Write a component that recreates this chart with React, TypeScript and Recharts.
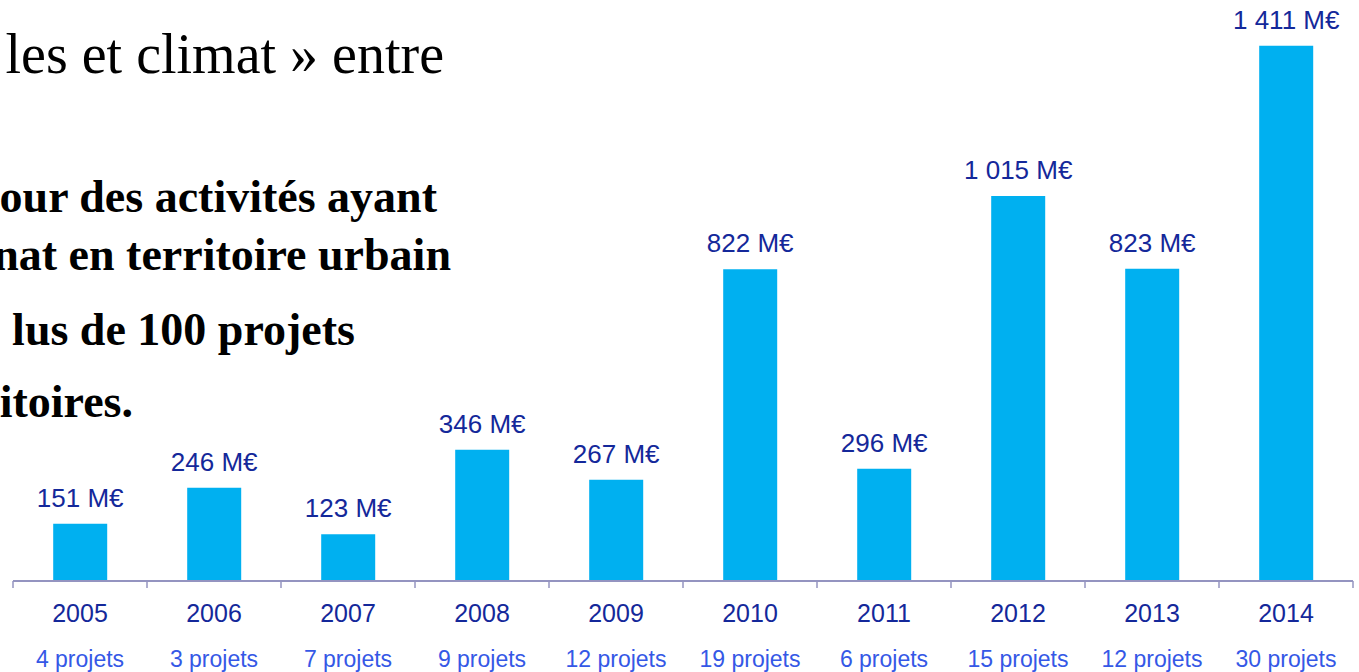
import { BarChart, Bar, XAxis, YAxis, LabelList } from "recharts";

// data
const years = ["2005", "2006", "2007", "2008", "2009", "2010", "2011", "2012", "2013", "2014"];
const amounts = [151, 246, 123, 346, 267, 822, 296, 1015, 823, 1411];
const projects = [4, 3, 7, 9, 12, 19, 6, 15, 12, 30];

// cut-off slide text sitting behind the chart
const slideLines = [
    { text: "les et climat » entre", x: 444, y: 73, size: 56, weight: 400 },
    { text: "our des activités ayant", x: 437, y: 212, size: 46, weight: 700 },
    { text: "nat en territoire urbain", x: 451, y: 270, size: 46, weight: 700 },
    { text: "lus de 100 projets", x: 355, y: 345, size: 46, weight: 700 },
    { text: "itoires.", x: 133, y: 417, size: 46, weight: 700 },
];

const W = 1359;
const H = 672;
const BAND = 134;
const NAVY = "#14289a";
const LIGHT = "#3558e6";
const AXIS = "#9494c0";
const SANS = "Liberation Sans, Arial, sans-serif";

const fmt = (v: number) => String(v).replace(/\B(?=(\d{3})+(?!\d))/g, " ") + " M€";

const data = years.map((y, i) => ({ year: y, amount: amounts[i], projets: projects[i] }));

const YearTick = (props: any) => {
    const { x, index, payload } = props;
    const left = x - BAND / 2;
    return (
        <g>
            <line x1={left} y1={581} x2={left} y2={588} stroke={AXIS} strokeWidth={1.5} />
            {index === years.length - 1 && (
                <line x1={left + BAND} y1={581} x2={left + BAND} y2={588} stroke={AXIS} strokeWidth={1.5} />
            )}
            <text x={x} y={622} textAnchor="middle" fill={NAVY} fontSize={25} fontFamily={SANS}>
                {payload.value}
            </text>
            <text x={x} y={667} textAnchor="middle" fill={LIGHT} fontSize={23} fontFamily={SANS}>
                {projects[index]} projets
            </text>
        </g>
    );
};

const AmountLabel = (props: any) => {
    const { x, y, width, value } = props;
    return (
        <text x={Number(x) + Number(width) / 2} y={Number(y) - 17} textAnchor="middle" fill={NAVY} fontSize={26} fontFamily={SANS}>
            {fmt(Number(value))}
        </text>
    );
};

const App = () => {
    return (
        <div style={{ position: "fixed", left: 0, top: 0, width: W, height: H, overflow: "hidden", background: "#fff" }}>
            <svg width={W} height={H} style={{ position: "absolute", left: 0, top: 0 }}>
                {slideLines.map((l) => (
                    <text
                        key={l.text}
                        x={l.x}
                        y={l.y}
                        textAnchor="end"
                        fontSize={l.size}
                        fontWeight={l.weight}
                        fontFamily="Liberation Serif, DejaVu Serif, serif"
                        fill="#000"
                    >
                        {l.text}
                    </text>
                ))}
            </svg>
            <div style={{ position: "absolute", left: 0, top: 0 }}>
                <BarChart
                    width={W}
                    height={H}
                    data={data}
                    margin={{ top: 12, right: 6, left: 13, bottom: 0 }}
                    barCategoryGap="30%"
                >
                    <XAxis
                        dataKey="year"
                        height={91}
                        interval={0}
                        tickLine={false}
                        axisLine={{ stroke: AXIS, strokeWidth: 2 }}
                        tick={<YearTick />}
                    />
                    <YAxis hide domain={[0, 1500]} />
                    <Bar dataKey="amount" fill="#00b0f0" isAnimationActive={false}>
                        <LabelList dataKey="amount" content={<AmountLabel />} />
                    </Bar>
                </BarChart>
            </div>
        </div>
    );
};

export default App;
